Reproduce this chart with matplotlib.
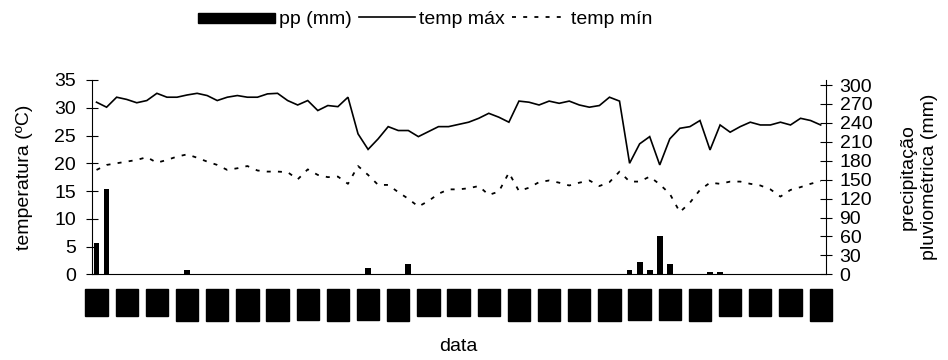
import matplotlib
matplotlib.use("Agg")
import matplotlib.pyplot as plt
from matplotlib.patches import Rectangle
from matplotlib.legend_handler import HandlerPatch

plt.rcParams['font.family'] = ['Liberation Sans', 'DejaVu Sans']

# x tick labels (every 3rd day)
date_labels = ["1/3", "4/3", "7/3", "10/3", "13/3", "16/3", "19/3", "22/3", "25/3",
               "28/3", "31/3", "3/4", "6/4", "9/4", "12/4", "15/4", "18/4", "21/4",
               "24/4", "27/4", "30/4", "3/5", "6/5", "9/5", "12/5"]

temp_max = [31.0, 30.1, 31.9, 31.5, 30.9, 31.3, 32.6, 31.9, 31.9, 32.3,
            32.6, 32.2, 31.3, 31.9, 32.2, 31.9, 31.9, 32.5, 32.6, 31.3,
            30.5, 31.3, 29.5, 30.4, 30.2, 31.9, 25.3, 22.5, 24.4, 26.6,
            25.9, 25.9, 24.8, 25.7, 26.6, 26.6, 27.0, 27.4, 28.1, 29.0,
            28.3, 27.4, 31.2, 31.0, 30.5, 31.2, 30.8, 31.2, 30.5, 30.1,
            30.4, 31.9, 31.2, 20.0, 23.5, 24.8, 19.7, 24.4, 26.3, 26.6,
            27.7, 22.4, 26.9, 25.6, 26.6, 27.4, 26.9, 26.9, 27.4, 26.9,
            28.1, 27.7, 26.9]

temp_min = [18.8, 19.7, 20.0, 20.3, 20.6, 21.1, 20.1, 20.6, 21.2, 21.6,
            21.0, 20.3, 19.7, 18.8, 19.1, 19.5, 18.7, 18.5, 18.5, 18.4,
            17.1, 18.9, 17.9, 17.5, 17.6, 16.3, 19.5, 17.9, 16.1, 16.1,
            14.8, 13.6, 12.2, 13.2, 14.5, 15.3, 15.3, 15.5, 15.9, 14.3,
            14.9, 18.3, 15.0, 15.6, 16.6, 16.9, 16.5, 16.0, 16.5, 16.9,
            15.9, 16.6, 18.5, 16.7, 16.7, 17.6, 16.2, 14.5, 11.2, 12.9,
            15.2, 16.5, 16.3, 16.7, 16.7, 16.3, 16.0, 15.3, 14.0, 15.2,
            15.7, 16.3, 16.8]

precip = [50, 136, 0, 0, 0, 0, 0, 0, 0, 7,
          0, 0, 0, 0, 0, 0, 0, 0, 0, 0,
          0, 0, 0, 0, 0, 0, 0, 10, 0, 0,
          0, 16, 0, 0, 0, 0, 0, 0, 0, 0,
          0, 0, 0, 0, 0, 0, 0, 0, 0, 0,
          0, 0, 0, 7, 19, 7, 60, 16, 0, 0,
          0, 3, 3, 0, 0, 0, 0, 0, 0, 0,
          0, 0, 0]

n = len(temp_max)
x = list(range(n))

fig = plt.figure(figsize=(9.48, 3.6), dpi=100)
ax = fig.add_axes([91.5 / 948, 85.7 / 360, 734.2 / 948, 194.3 / 360])
ax2 = ax.twinx()
ax.set_zorder(ax2.get_zorder() + 1)
ax.patch.set_visible(False)

ax2.bar(x, precip, width=0.57, color='black')
l1, = ax.plot(x, temp_max, color='black', lw=1.2, solid_joinstyle='miter')
l2, = ax.plot(x, temp_min, color='black', lw=1.3, linestyle=(0, (2.2, 4.0)))

ax.set_xlim(-0.5, n - 0.5)
ax.set_ylim(0, 35)
ax.set_yticks(range(0, 36, 5))
ax2.set_ylim(0, 308)
ax2.set_yticks(range(0, 301, 30))

for a in (ax, ax2):
    for s in a.spines.values():
        s.set_linewidth(0.8)
    a.spines['top'].set_visible(False)
ax.spines['right'].set_visible(False)
ax2.spines['left'].set_visible(False)
ax2.spines['bottom'].set_visible(False)

ax.tick_params(axis='y', direction='inout', length=8, width=0.8, labelsize=14, pad=7)
ax2.tick_params(axis='y', direction='inout', length=8, width=0.8, labelsize=14, pad=6)

ax.set_xticks(range(0, n, 3))
ax.set_xticklabels(date_labels, rotation=90, fontsize=6)
ax.tick_params(axis='x', length=0, pad=16)
for t in ax.get_xticklabels():
    t.set_bbox(dict(facecolor='black', edgecolor='black', pad=5.5))

ax.set_xlabel('data', fontsize=14)
ax.xaxis.set_label_coords(0.5, -0.33)
ax.set_ylabel('temperatura (ºC)', fontsize=14)
ax.yaxis.set_label_coords(-0.08, 0.5)
ax2.set_ylabel('precipitação\npluviométrica (mm)', fontsize=14, linespacing=1.3)
ax2.yaxis.set_label_coords(1.101, 0.5)

proxy = Rectangle((0, 0), 1, 1, facecolor='black', edgecolor='black')


def make_bar(legend, orig_handle, xdescent, ydescent, width, height, fontsize):
    return Rectangle((-xdescent - 0.38 * width, -ydescent + 0.12 * height),
                     width * 1.38, height * 0.72)


fig.legend([proxy, l1, l2], ['pp (mm)', 'temp máx', 'temp mín'],
           handler_map={Rectangle: HandlerPatch(patch_func=make_bar)},
           ncol=3, frameon=False, fontsize=14, handlelength=2.85,
           handletextpad=0.2, columnspacing=0.4, loc='center',
           bbox_to_anchor=(0.46, 0.946))

fig.savefig('out.png', dpi=100)
